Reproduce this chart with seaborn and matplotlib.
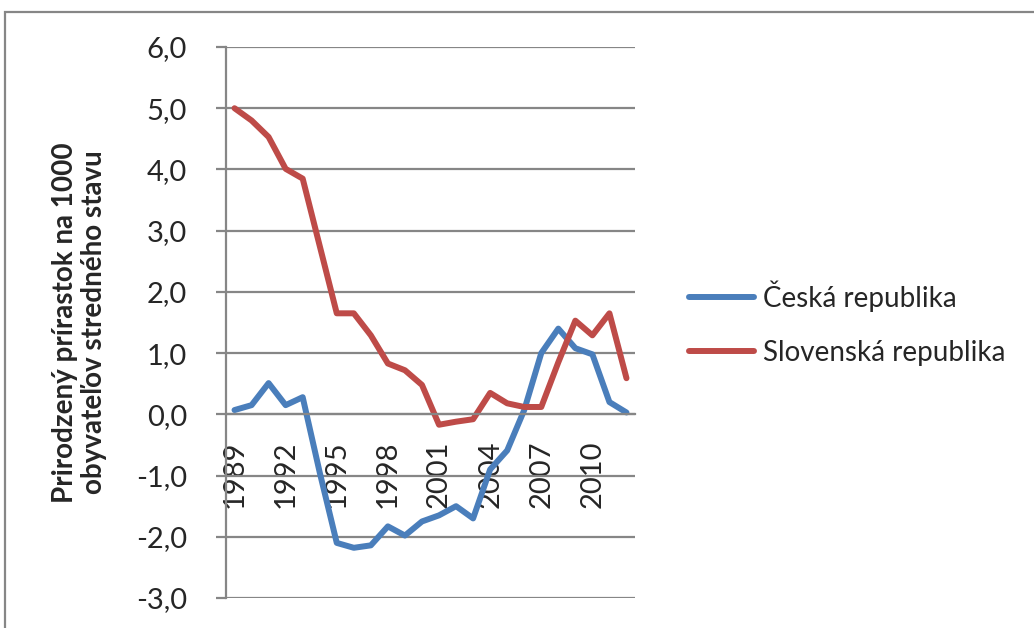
import matplotlib
matplotlib.use("Agg")
import matplotlib.pyplot as plt
import seaborn as sns
import pandas as pd
from matplotlib.patches import Rectangle
from matplotlib.ticker import FuncFormatter

# data
years = list(range(1989, 2013))
czech = [0.07, 0.15, 0.51, 0.15, 0.28, -0.95, -2.10, -2.18, -2.14, -1.83, -1.98, -1.75,
         -1.65, -1.50, -1.70, -0.90, -0.59, 0.07, 1.00, 1.40, 1.08, 0.98, 0.20, 0.03]
slovak = [5.00, 4.80, 4.53, 4.01, 3.85, 2.75, 1.65, 1.65, 1.29, 0.83, 0.72, 0.48,
          -0.17, -0.12, -0.08, 0.35, 0.18, 0.12, 0.12, 0.85, 1.53, 1.29, 1.65, 0.59]
series_names = ["Česká republika", "Slovenská republika"]
colors = ["#4A7EBB", "#BE4B48"]
ylabel = "Prirodzený prírastok na 1000\nobyvateľov stredného stavu"

df = pd.DataFrame({
    "rok": years * 2,
    "hodnota": czech + slovak,
    "krajina": [series_names[0]] * len(years) + [series_names[1]] * len(years),
})

sns.set_style("white")
plt.rcParams['font.family'] = ['Lato', 'DejaVu Sans']

fig = plt.figure(figsize=(10.34, 6.28), dpi=100)
ax = fig.add_axes([226 / 1034, 1 - 598 / 628, 409 / 1034, 551 / 628])

grid_col = "#868686"
sns.lineplot(data=df, x="rok", y="hodnota", hue="krajina", palette=colors,
             linewidth=4.3, ax=ax, solid_capstyle="round", solid_joinstyle="round")

ax.set_xlim(years[0] - 0.5, years[-1] + 0.5)
ax.set_ylim(-3, 6)
ax.set_yticks(range(-3, 7))
ax.yaxis.set_major_formatter(FuncFormatter(lambda v, p: f"{v:.1f}".replace(".", ",")))
ax.grid(axis="y", color=grid_col, linewidth=1.6)
ax.set_axisbelow(True)

# category axis crosses at zero
for s in ["top", "right"]:
    ax.spines[s].set_visible(False)
ax.spines["bottom"].set_position(("data", 0))
ax.spines["bottom"].set_color(grid_col)
ax.spines["bottom"].set_linewidth(1.6)
ax.spines["left"].set_color(grid_col)
ax.spines["left"].set_linewidth(1.6)

ax.set_xticks(years[::3])
ax.set_xticklabels([str(y) for y in years[::3]], rotation=90, va="top", ha="center")
ax.set_xticks([y - 0.5 for y in years] + [years[-1] + 0.5], minor=True)
ax.tick_params(axis="x", which="major", length=0, pad=19, labelsize=21)
ax.tick_params(axis="x", which="minor", length=6, width=1.6, color=grid_col, direction="out")
ax.tick_params(axis="y", length=7, width=1.6, color=grid_col, direction="out",
               pad=21, labelsize=21, left=True)

ax.set_xlabel("")
ax.set_ylabel(ylabel, fontsize=20, fontweight="bold", linespacing=1.15)
ax.yaxis.set_label_coords(-0.29, 0.5)

handles, labels = ax.get_legend_handles_labels()
ax.legend(handles, labels, loc="center left", bbox_to_anchor=(664 / 1034, 1 - 323 / 628),
          bbox_transform=fig.transFigure, frameon=False, fontsize=20,
          handlelength=2.35, handletextpad=0.32, labelspacing=1.0)

# outer chart border (cropped on right and bottom)
fig.patches.append(Rectangle((5 / 1034, -0.1), 1.2, 1.1 - 12 / 628,
                             transform=fig.transFigure, fill=False,
                             edgecolor=grid_col, linewidth=1.6))

fig.savefig("out.png", dpi=100)
